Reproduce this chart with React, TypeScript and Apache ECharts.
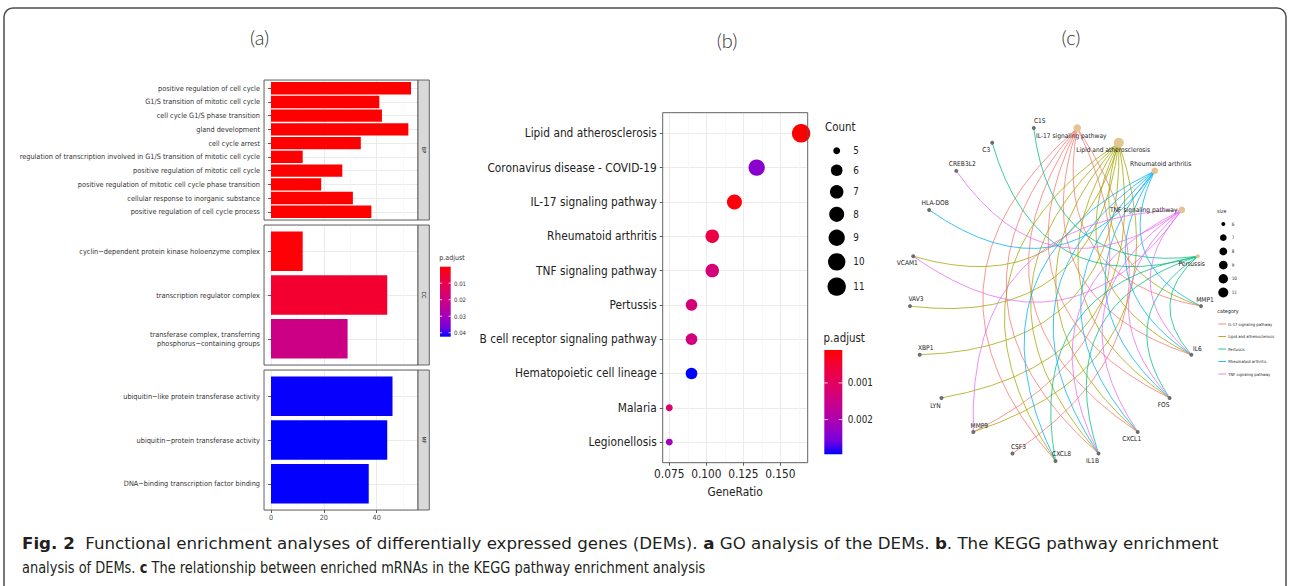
import React, { useEffect, useRef } from 'react';
import * as echarts from 'echarts';

/* ---------------- (a) GO enrichment ---------------- */
const bpTerms = [
  'positive regulation of cell cycle',
  'G1/S transition of mitotic cell cycle',
  'cell cycle G1/S phase transition',
  'gland development',
  'cell cycle arrest',
  'regulation of transcription involved in G1/S transition of mitotic cell cycle',
  'positive regulation of mitotic cell cycle',
  'positive regulation of mitotic cell cycle phase transition',
  'cellular response to inorganic substance',
  'positive regulation of cell cycle process',
];
const bpCounts = [53, 41, 42, 52, 34, 12, 27, 19, 31, 38];
const bpPadj = [0.00002, 0.00003, 0.00003, 0.00004, 0.00005, 0.00006, 0.00007, 0.00008, 0.0001, 0.0001];

const ccTerms = [
  'cyclin\u2212dependent protein kinase holoenzyme complex',
  'transcription regulator complex',
  'transferase complex, transferring\nphosphorus\u2212containing groups',
];
const ccCounts = [12, 44, 29];
const ccPadj = [0.0006, 0.0052, 0.0205];

const mfTerms = [
  'ubiquitin\u2212like protein transferase activity',
  'ubiquitin\u2212protein transferase activity',
  'DNA\u2212binding transcription factor binding',
];
const mfCounts = [46, 44, 37];
const mfPadj = [0.0421, 0.0424, 0.0422];

const ontologies = ['BP', 'CC', 'MF'];
const countTicks = [0, 20, 40];
const goPadjTicks = [0.01, 0.02, 0.03, 0.04];

/* ---------------- (b) KEGG dot plot ---------------- */
const keggTerms = [
  'Lipid and atherosclerosis',
  'Coronavirus disease - COVID-19',
  'IL-17 signaling pathway',
  'Rheumatoid arthritis',
  'TNF signaling pathway',
  'Pertussis',
  'B cell receptor signaling pathway',
  'Hematopoietic cell lineage',
  'Malaria',
  'Legionellosis',
];
const keggRatio = [0.164, 0.134, 0.119, 0.104, 0.104, 0.09, 0.09, 0.09, 0.075, 0.075];
const keggCount = [11, 9, 8, 7, 7, 6, 6, 6, 5, 5];
const keggPadj = [0.0001, 0.00238, 0.00018, 0.00067, 0.0013, 0.00132, 0.00134, 0.00295, 0.00115, 0.00215];
const ratioTicks = [0.075, 0.1, 0.125, 0.15];
const keggPadjTicks = [0.001, 0.002];
const countLegend = [5, 6, 7, 8, 9, 10, 11];

/* ---------------- (c) gene-pathway network ---------------- */
const circleOrder = [
  'CXCL8', 'IL1B', 'CXCL1', 'FOS', 'IL6', 'MMP1',
  'Pertussis', 'TNF signaling pathway', 'Rheumatoid arthritis', 'Lipid and atherosclerosis', 'IL-17 signaling pathway',
  'C1S', 'C3', 'CREB3L2', 'HLA-DOB', 'VCAM1', 'VAV3', 'XBP1', 'LYN', 'MMP9', 'CSF3',
];
const categories = ['IL-17 signaling pathway', 'Lipid and atherosclerosis', 'Pertussis', 'Rheumatoid arthritis', 'TNF signaling pathway'];
const il17Genes = ['MMP9', 'CSF3', 'CXCL8', 'IL1B', 'CXCL1', 'FOS', 'IL6', 'MMP1'];
const lipidGenes = ['VCAM1', 'VAV3', 'XBP1', 'LYN', 'MMP9', 'CXCL8', 'IL1B', 'CXCL1', 'FOS', 'IL6', 'MMP1'];
const pertussisGenes = ['C1S', 'C3', 'CXCL8', 'IL1B', 'FOS', 'IL6'];
const rheumatoidGenes = ['HLA-DOB', 'CXCL8', 'IL1B', 'CXCL1', 'FOS', 'IL6', 'MMP1'];
const tnfGenes = ['CREB3L2', 'VCAM1', 'MMP9', 'IL1B', 'CXCL1', 'FOS', 'IL6'];
const sizeLegend = [6, 7, 8, 9, 10, 11];

/* ---------------- caption ---------------- */
const captionLine1 = '{b|Fig. 2}  Functional enrichment analyses of differentially expressed genes (DEMs). {b|a} GO analysis of the DEMs. {b|b}. The KEGG pathway enrichment';
const captionLine2 = 'analysis of DEMs. {b|c} The relationship between enriched mRNAs in the KEGG pathway enrichment analysis';

/* ---------------- styles ---------------- */
const NARROW = "'DejaVu Sans Condensed', 'DejaVu Sans', sans-serif";
const TITLE_FONT = "Lato, 'Open Sans', 'DejaVu Sans', sans-serif";
const PAL = ['#FF0000', '#F40031', '#E8004F', '#DA006C', '#CA0089', '#B500A5', '#9A00C3', '#7300E0', '#0000FF'];
const catColors = ['#F8766D', '#A3A500', '#00BF7D', '#00B0F6', '#E76BF3'];
const GRID_LINE = '#EBEBEB';
const MINOR_LINE = '#F3F3F3';
const AXIS_COL = '#333333';
const BORDER_COL = '#555555';
const TEXT_A = '#333333';
const TEXT_B = '#222222';

function buildOption() {
  const grids: any[] = [];
  const xAxes: any[] = [];
  const yAxes: any[] = [];
  const series: any[] = [];
  const graphics: any[] = [];

  const txt = (x: number, y: number, text: string, size: number, extra: any = {}) => ({
    type: 'text', x, y, z: 60, silent: true,
    rotation: extra.rotation || 0,
    scaleX: extra.scaleX || 1,
    style: {
      text, fontSize: size, fontFamily: extra.font || NARROW, fill: extra.fill || TEXT_A,
      align: extra.align || 'left', verticalAlign: 'middle', fontWeight: extra.weight || 'normal',
      rich: extra.rich,
    },
  });

  function addPanel(c: any) {
    const r = c.rect;
    const n = c.cats.length;
    const bg = grids.length;
    grids.push({ left: r.left, top: r.top, width: r.width, height: r.height, containLabel: false, outerBoundsMode: 'none' });
    xAxes.push({
      gridIndex: bg, type: 'value', position: 'bottom', min: c.xmin, max: c.xmax,
      minInterval: c.minor, maxInterval: c.minor,
      axisLine: { show: false }, axisTick: { show: false }, axisLabel: { show: false },
      splitLine: { show: true, lineStyle: { color: MINOR_LINE, width: 0.6 } },
    });
    const b = c.bottom;
    xAxes.push({
      gridIndex: bg, type: 'value', position: 'bottom', min: c.xmin, max: c.xmax,
      minInterval: c.major, maxInterval: c.major,
      axisLine: { show: false },
      axisTick: b ? { show: true, customValues: b.ticks, length: 3, lineStyle: { color: AXIS_COL, width: 0.8 } } : { show: false },
      axisLabel: b
        ? {
            show: true, customValues: b.ticks, formatter: b.fmt, fontSize: b.font, fontFamily: NARROW, color: b.color,
            margin: b.margin, showMinLabel: true, showMaxLabel: true, hideOverlap: false,
          }
        : { show: false },
      splitLine: { show: true, lineStyle: { color: GRID_LINE, width: 1 } },
      name: b && b.name ? b.name : '',
      nameLocation: 'middle',
      nameGap: b && b.nameGap ? b.nameGap : 0,
      nameTextStyle: { fontSize: b ? b.font : 10, fontFamily: NARROW, color: b ? b.color : TEXT_A },
    });
    yAxes.push({
      gridIndex: bg, type: 'value', min: 0.4, max: n + 0.6, minInterval: 1, maxInterval: 1,
      axisLine: { show: false }, axisTick: { show: false }, axisLabel: { show: false },
      splitLine: { show: true, lineStyle: { color: GRID_LINE, width: 1 } },
    });
    const unit = r.height / (n + 0.2);
    const dg = grids.length;
    grids.push({ left: r.left, top: r.top + 0.1 * unit, width: r.width, height: n * unit, containLabel: false, outerBoundsMode: 'none' });
    const xi = xAxes.length;
    xAxes.push({ gridIndex: dg, type: 'value', min: c.xmin, max: c.xmax, show: false, splitLine: { show: false } });
    const yi = yAxes.length;
    yAxes.push({
      gridIndex: dg, type: 'category', data: c.cats, inverse: true,
      axisLine: { show: false },
      axisTick: { show: true, alignWithLabel: true, length: 3, lineStyle: { color: AXIS_COL, width: 0.8 } },
      axisLabel: { interval: 0, fontSize: c.catFont, fontFamily: NARROW, color: c.catColor, margin: c.catMargin, lineHeight: c.catLineHeight, hideOverlap: false },
      splitLine: { show: false },
    });
    graphics.push({
      type: 'rect', z: 50, silent: true,
      shape: { x: r.left, y: r.top, width: r.width, height: r.height },
      style: { fill: 'none', stroke: BORDER_COL, lineWidth: 0.9 },
    });
    return { xi, yi };
  }

  /* ----- (a) ----- */
  const goSets = [
    { terms: bpTerms, counts: bpCounts, padj: bpPadj },
    { terms: ccTerms, counts: ccCounts, padj: ccPadj },
    { terms: mfTerms, counts: mfCounts, padj: mfPadj },
  ];
  const allCounts = [...bpCounts, ...ccCounts, ...mfCounts];
  const cMax = Math.max(...allCounts, 0);
  const goXmin = -0.05 * cMax;
  const goXmax = 1.05 * cMax;
  const goRects = [
    { left: 264, top: 80, width: 154, height: 140 },
    { left: 264, top: 225, width: 154, height: 140 },
    { left: 264, top: 370, width: 154, height: 140 },
  ];
  goSets.forEach((s, i) => {
    const isLast = i === goSets.length - 1;
    const { xi, yi } = addPanel({
      rect: goRects[i], xmin: goXmin, xmax: goXmax, major: 20, minor: 10,
      cats: s.terms, catFont: 7.3, catMargin: 4, catLineHeight: 9.5, catColor: TEXT_A,
      bottom: isLast ? { ticks: countTicks, fmt: (v: number) => String(v), font: 7.2, margin: 4, color: '#4D4D4D' } : null,
    });
    series.push({
      type: 'bar', xAxisIndex: xi, yAxisIndex: yi, silent: true,
      data: s.counts.map((v, j) => [v, j, s.padj[j]]),
      encode: { x: 0, y: 1 },
      barCategoryGap: '10%',
    });
    const r = goRects[i];
    graphics.push({
      type: 'rect', z: 50, silent: true,
      shape: { x: r.left + r.width, y: r.top, width: 11.3, height: r.height },
      style: { fill: '#D9D9D9', stroke: BORDER_COL, lineWidth: 0.9 },
    });
    graphics.push(txt(r.left + r.width + 5.8, r.top + r.height / 2, ontologies[i], 5.5, { align: 'center', rotation: -Math.PI / 2, fill: '#1A1A1A' }));
  });

  const goAll = [...bpPadj, ...ccPadj, ...mfPadj];
  const goPmin = Math.min(...goAll);
  const goPmax = Math.max(...goAll);
  const gradStops = PAL.map((c, i) => ({ offset: i / (PAL.length - 1), color: c }));
  const addColorbar = (x: number, y: number, w: number, h: number, pmin: number, pmax: number, ticks: number[], fmt: (v: number) => string, labelX: number, font: number, title: string, titleY: number, titleFont: number, fill: string) => {
    graphics.push(txt(x - 0.7, titleY, title, titleFont, { fill }));
    graphics.push({
      type: 'rect', z: 55, silent: true,
      shape: { x, y, width: w, height: h },
      style: { fill: new echarts.graphic.LinearGradient(0, 0, 0, 1, gradStops) },
    });
    ticks.forEach((t) => {
      const ty = y + ((t - pmin) / (pmax - pmin)) * h;
      graphics.push({ type: 'line', z: 56, silent: true, shape: { x1: x, y1: ty, x2: x + w / 5, y2: ty }, style: { stroke: '#FFFFFF', lineWidth: 0.8 } });
      graphics.push({ type: 'line', z: 56, silent: true, shape: { x1: x + w - w / 5, y1: ty, x2: x + w, y2: ty }, style: { stroke: '#FFFFFF', lineWidth: 0.8 } });
      graphics.push(txt(labelX, ty, fmt(t), font, { fill }));
    });
  };
  addColorbar(440, 266.7, 10.7, 70, goPmin, goPmax, goPadjTicks, (v) => String(v), 454, 6, 'p.adjust', 258.3, 7, TEXT_A);

  /* ----- (b) ----- */
  const rMin = Math.min(...keggRatio);
  const rMax = Math.max(...keggRatio);
  const rPad = 0.05 * (rMax - rMin);
  const keggRect = { left: 662.7, top: 112.7, width: 145, height: 350 };
  const kb = addPanel({
    rect: keggRect, xmin: rMin - rPad, xmax: rMax + rPad, major: 0.025, minor: 0.0125,
    cats: keggTerms, catFont: 11.8, catMargin: 6, catLineHeight: 14, catColor: TEXT_B,
    bottom: { ticks: ratioTicks, fmt: (v: number) => v.toFixed(3), font: 11.8, margin: 5, color: TEXT_B, name: 'GeneRatio', nameGap: 23 },
  });
  const kMin = Math.min(...keggCount);
  const kMax = Math.max(...keggCount);
  const countSize = (c: number) => 2.3 * (3 + 5 * Math.sqrt((c - kMin) / (kMax - kMin)));
  series.push({
    type: 'scatter', xAxisIndex: kb.xi, yAxisIndex: kb.yi, silent: true, clip: false,
    data: keggTerms.map((_, i) => [keggRatio[i], i, keggCount[i], keggPadj[i]]),
    encode: { x: 0, y: 1 },
    symbolSize: (v: number[]) => countSize(v[2]),
    itemStyle: { opacity: 1 },
    z: 3,
  });

  graphics.push(txt(825, 126.7, 'Count', 11.4, { fill: TEXT_B }));
  let ly = 150.7;
  countLegend.forEach((c, i) => {
    if (i > 0) ly += 14 + 0.6 * (countSize(countLegend[i - 1]) + countSize(c)) / 2;
    graphics.push({ type: 'circle', z: 55, silent: true, shape: { cx: 836.7, cy: ly, r: countSize(c) / 2 }, style: { fill: '#000000' } });
    graphics.push(txt(853.3, ly, String(c), 9.8, { fill: TEXT_B }));
  });
  const kPmin = Math.min(...keggPadj);
  const kPmax = Math.max(...keggPadj);
  addColorbar(824.3, 350, 18, 104.3, kPmin, kPmax, keggPadjTicks, (v) => v.toFixed(3), 847.7, 9.8, 'p.adjust', 338.3, 11.4, TEXT_B);

  /* ----- (c) ----- */
  const geneSets = [il17Genes, lipidGenes, pertussisGenes, rheumatoidGenes, tnfGenes];
  const N = circleOrder.length;
  const CX = 1055.5, CY = 293.6, RX = 145.9, RY = 167.4;
  const pos = circleOrder.map((_, k) => {
    const a = ((-90 + (k * 360) / N) * Math.PI) / 180;
    return [CX + RX * Math.cos(a), CY - RY * Math.sin(a)];
  });
  const pathCounts = geneSets.map((g) => g.length);
  const sMin = Math.min(...pathCounts);
  const sMax = Math.max(...pathCounts);
  const cnetSize = (c: number) => 4 + 6 * Math.sqrt((c - sMin) / (sMax - sMin));
  const labelNudge: Record<string, number[]> = {
    C1S: [6, -7], 'IL-17 signaling pathway': [-6, 8.4], 'Lipid and atherosclerosis': [-5.6, 7.6],
    'Rheumatoid arthritis': [6, -7], Pertussis: [-6, 8], MMP1: [4, -6], C3: [-6, 7], CREB3L2: [6, -7],
    'HLA-DOB': [6, -7], VCAM1: [-6, 7], VAV3: [6, -7], XBP1: [6, -7], LYN: [-6, 8], MMP9: [6, -6],
    CSF3: [6, -7], CXCL8: [6, -7], IL1B: [-6, 7], CXCL1: [-6, 7], FOS: [-6, 7], IL6: [6, -6],
  };
  const nodes = circleOrder.map((name, k) => {
    const ci = categories.indexOf(name);
    const isPath = ci >= 0;
    const nudge = labelNudge[name];
    return {
      name, x: pos[k][0], y: pos[k][1],
      symbolSize: isPath ? cnetSize(pathCounts[ci]) : 4,
      itemStyle: { color: isPath ? '#E5C494' : '#6E6E6E' },
      label: nudge
        ? { show: true, position: 'inside', offset: nudge, fontSize: 6.6, fontFamily: NARROW, color: '#222222' }
        : { show: true, position: 'left', distance: 1, fontSize: 6.6, fontFamily: NARROW, color: '#222222' },
    };
  });
  const links: any[] = [];
  categories.forEach((cat, ci) => {
    const kc = circleOrder.indexOf(cat);
    geneSets[ci].forEach((g) => {
      const kg = circleOrder.indexOf(g);
      const delta = (kg - kc + N) % N;
      links.push({ source: cat, target: g, lineStyle: { color: catColors[ci], curveness: delta < N / 2 ? 0.5 : -0.5 } });
    });
  });
  const xs = pos.map((p) => p[0]);
  const ys = pos.map((p) => p[1]);
  const bx0 = Math.min(...xs), bx1 = Math.max(...xs), by0 = Math.min(...ys), by1 = Math.max(...ys);
  series.push({
    type: 'graph', layout: 'none', roam: false, silent: true,
    left: bx0, top: by0, width: bx1 - bx0, height: by1 - by0,
    data: nodes, links,
    edgeSymbol: ['none', 'none'],
    lineStyle: { width: 0.9, opacity: 0.85 },
    emphasis: { disabled: true },
    z: 3,
  });

  graphics.push(txt(1217.3, 210.7, 'size', 5.2, { fill: '#222' }));
  sizeLegend.forEach((s, i) => {
    const y = 224 + i * 13.7;
    graphics.push({ type: 'circle', z: 55, silent: true, shape: { cx: 1223.3, cy: y, r: cnetSize(s) / 2 }, style: { fill: '#000000' } });
    graphics.push(txt(1231.7, y, String(s), 4.6, { fill: '#222' }));
  });
  graphics.push(txt(1217.3, 310.7, 'category', 5.4, { fill: '#222' }));
  categories.forEach((c, i) => {
    const y = 324 + i * 12.5;
    graphics.push({ type: 'line', z: 55, silent: true, shape: { x1: 1218.3, y1: y, x2: 1226, y2: y }, style: { stroke: catColors[i], lineWidth: 1, opacity: 0.85 } });
    graphics.push(txt(1228.3, y, c, 4.1, { fill: '#222' }));
  });

  /* ----- frame, titles, caption ----- */
  graphics.push({
    type: 'rect', z: 1, silent: true,
    shape: { x: 4, y: 8, width: 1282, height: 640, r: 9 },
    style: { fill: 'none', stroke: '#4D4D4D', lineWidth: 1.5 },
  });
  graphics.push(txt(259.5, 37, '(a)', 20, { align: 'center', font: TITLE_FONT, weight: 300, fill: '#333' }));
  graphics.push(txt(727, 40, '(b)', 20, { align: 'center', font: TITLE_FONT, weight: 300, fill: '#333' }));
  graphics.push(txt(1071, 37, '(c)', 20, { align: 'center', font: TITLE_FONT, weight: 300, fill: '#333' }));
  const capRich = { b: { fontWeight: 'bold', fontSize: 16, fontFamily: NARROW, fill: '#231F20' } };
  graphics.push(txt(22, 543, captionLine1, 16, { fill: '#231F20', rich: capRich, scaleX: 1.158 }));
  graphics.push(txt(22, 568, captionLine2, 16, { fill: '#231F20', rich: capRich, scaleX: 0.902 }));

  return {
    animation: false,
    backgroundColor: '#FFFFFF',
    grid: grids,
    xAxis: xAxes,
    yAxis: yAxes,
    visualMap: [
      { type: 'continuous', show: false, seriesIndex: [0, 1, 2], dimension: 2, min: goPmin, max: goPmax, inRange: { color: PAL } },
      { type: 'continuous', show: false, seriesIndex: [3], dimension: 3, min: kPmin, max: kPmax, inRange: { color: PAL } },
    ],
    series,
    graphic: { elements: graphics },
  };
}

export default function App() {
  const ref = useRef<HTMLDivElement>(null);
  useEffect(() => {
    document.body.style.margin = '0';
    const chart = echarts.init(ref.current as HTMLDivElement, null, { renderer: 'svg' });
    chart.setOption(buildOption() as any);
    return () => chart.dispose();
  }, []);
  return <div ref={ref} style={{ width: 1290, height: 586 }} />;
}
